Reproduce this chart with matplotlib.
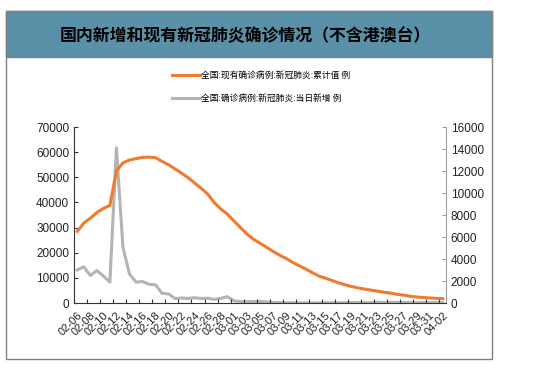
import matplotlib
matplotlib.use("Agg")
import matplotlib.pyplot as plt
from matplotlib.patches import Rectangle
import datetime as dt

plt.rcParams['font.family'] = ['Liberation Sans', 'Noto Sans CJK SC', 'DejaVu Sans']

start = dt.date(2020, 2, 6)
dates = [(start + dt.timedelta(days=i)).strftime('%m-%d') for i in range(57)]

existing = [28500, 31774, 33738, 35982, 37626, 38800, 52526, 55748, 56873, 57416,
            57934, 58016, 57805, 56303, 54965, 53284, 51606, 49824, 47672, 45604,
            43258, 39919, 37414, 35329, 32652, 30004, 27433, 25352, 23784, 22177,
            20533, 19016, 17721, 16145, 14831, 13526, 12094, 10734, 9898, 8976,
            8056, 7263, 6569, 6013, 5549, 5120, 4735, 4287, 3947, 3460,
            3128, 2691, 2396, 2161, 2004, 1863, 1727]

daily_new = [3000, 3300, 2500, 2950, 2450, 1900, 14100, 5050, 2640, 1900,
             1950, 1700, 1650, 880, 820, 400, 450, 409, 480, 406,
             433, 327, 427, 573, 202, 125, 119, 139, 143, 99,
             44, 40, 19, 24, 15, 8, 11, 20, 16, 21,
             13, 34, 39, 41, 46, 39, 78, 47, 67, 55,
             54, 45, 31, 48, 36, 35, 31]

label1 = '全国:现有确诊病例:新冠肺炎:累计值 例'
label2 = '全国:确诊病例:新冠肺炎:当日新增 例'
title = '国内新增和现有新冠肺炎确诊情况（不含港澳台）'

fig = plt.figure(figsize=(5.4, 3.7), dpi=100)

# outer frame and title band
fig.patches.append(Rectangle((6/540, 1-359/370), 486/540, 348/370, transform=fig.transFigure,
                             facecolor='white', edgecolor='#808080', linewidth=1.0, zorder=-5))
fig.patches.append(Rectangle((6/540, 1-57/370), 486/540, 46/370, transform=fig.transFigure,
                             facecolor='#5b91a8', edgecolor='#808080', linewidth=1.0, zorder=-4))
fig.text(245/540, 1-35/370, title, ha='center', va='center', fontsize=12.2,
         fontweight='bold', color='black', family=['Noto Sans CJK SC', 'DejaVu Sans'])

ax = fig.add_axes([74/540, 1-303/370, 372/540, 176/370])
ax2 = ax.twinx()
ax.set_zorder(2)
ax2.set_zorder(1)
ax.patch.set_visible(False)
ax2.patch.set_visible(False)

x = list(range(len(dates)))
l1, = ax.plot(x, existing, color='#f07a30', linewidth=2.2, solid_joinstyle='round')
l2, = ax2.plot(x, daily_new, color='#b4b4b4', linewidth=2.2, solid_joinstyle='round')

ax.set_xlim(-0.5, len(dates) - 0.5)
ax.set_ylim(0, 70000)
ax2.set_ylim(0, 16000)
ax.set_yticks(range(0, 70001, 10000))
ax2.set_yticks(range(0, 16001, 2000))

ax.set_xticks([i - 0.5 for i in range(0, len(dates) + 1, 2)])
ax.set_xticklabels([])
ax.set_xticks(x[::2], minor=True)
ax.set_xticklabels(dates[::2], minor=True, rotation=45, ha='right', va='top',
                   rotation_mode='anchor', fontsize=8, color='#222222')
ax.tick_params(axis='x', which='minor', length=0, pad=5)
ax.tick_params(axis='x', which='major', direction='in', length=3, color='#333333')

ax.tick_params(axis='y', direction='in', length=3, labelsize=8.5, labelcolor='#222222', color='#333333')
ax2.tick_params(axis='y', direction='in', length=3, labelsize=8.5, labelcolor='#222222', color='#999999')

for a in (ax, ax2):
    a.spines['top'].set_visible(False)
ax.spines['right'].set_visible(False)
ax2.spines['left'].set_visible(False)
ax2.spines['bottom'].set_visible(False)
ax.spines['left'].set_color('#333333')
ax.spines['bottom'].set_color('#333333')
ax2.spines['right'].set_color('#a0a0a0')

leg_font = dict(family=['Noto Sans CJK SC', 'DejaVu Sans'], size=6.3)
fig.legend([l1, l2], [label1, label2], loc='upper left', bbox_to_anchor=(168/540, 1-68/370),
           frameon=False, prop=leg_font, handlelength=3.2, handletextpad=0.2,
           labelspacing=1.5, borderaxespad=0)

fig.savefig('out.png', dpi=100)
